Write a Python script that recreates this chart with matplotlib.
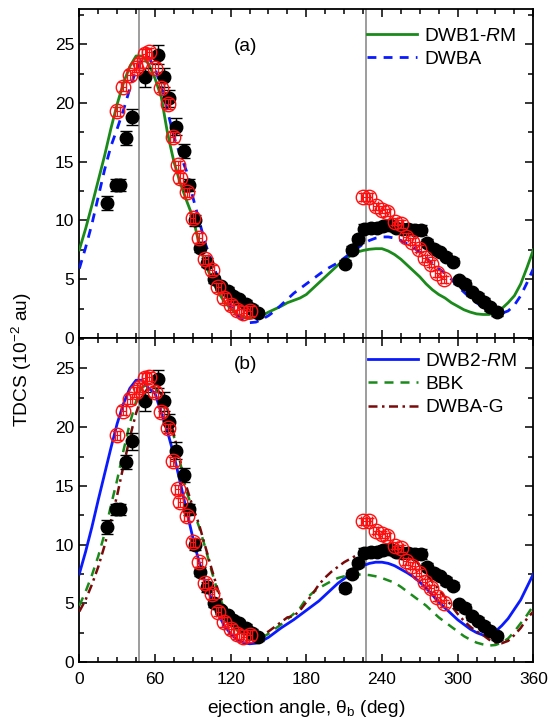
import matplotlib
matplotlib.use("Agg")
import matplotlib.pyplot as plt
import numpy as np

plt.rcParams['font.family'] = ['Liberation Sans', 'DejaVu Sans']
plt.rcParams['mathtext.fontset'] = 'custom'
plt.rcParams['mathtext.rm'] = 'Liberation Sans'
plt.rcParams['mathtext.it'] = 'Liberation Sans:italic'
plt.rcParams['mathtext.bf'] = 'Liberation Sans:bold'

# ---------------- data ----------------
# experiment 1 (black filled circles)
exp1_angle = [22, 29, 32, 37, 42, 52, 62, 67, 71, 77, 83, 87, 92, 96, 101, 107, 112, 118, 122, 127, 132, 137, 142,
              211, 216, 221, 226, 231, 236, 241, 246, 251, 256, 261, 266, 271, 276, 281, 286, 291, 296, 301, 306,
              311, 316, 321, 326, 331]
exp1_tdcs = [11.5, 13.0, 13.0, 17.0, 18.8, 22.2, 24.1, 22.2, 20.4, 18.0, 15.9, 13.0, 10.0, 7.7, 6.4, 5.0, 4.4, 4.0,
             3.6, 3.3, 2.9, 2.5, 2.1,
             6.3, 7.5, 8.4, 9.3, 9.4, 9.4, 9.5, 9.6, 9.4, 9.3, 9.3, 9.2, 9.2, 8.1, 7.6, 7.3, 6.9, 6.5, 4.9, 4.6,
             3.9, 3.5, 3.1, 2.6, 2.2]
exp1_err = [0.6, 0.5, 0.5, 0.6, 0.7, 0.8, 0.8, 0.8, 0.7, 0.7, 0.6, 0.5, 0.5, 0.4, 0.4, 0.3, 0.3, 0.3,
            0.3, 0.3, 0.3, 0.3, 0.3,
            0.3, 0.3, 0.3, 0.4, 0.4, 0.4, 0.4, 0.4, 0.4, 0.4, 0.4, 0.4, 0.4, 0.3, 0.3, 0.3, 0.3, 0.3, 0.3, 0.3,
            0.3, 0.3, 0.3, 0.3, 0.3]

# experiment 2 (red open circles)
exp2_angle = [30, 35, 40, 45, 48, 52, 55, 60, 65, 70, 74, 78, 80, 85, 90, 95, 100, 105, 110, 115, 120, 125, 130, 135,
              225, 230, 235, 240, 244, 250, 255, 259, 264, 269, 274, 279, 284, 289]
exp2_tdcs = [19.3, 21.4, 22.4, 23.0, 23.4, 24.2, 24.3, 23.0, 21.3, 19.9, 17.1, 14.7, 13.6, 12.4, 10.2, 8.5, 6.7,
             5.8, 4.3, 3.4, 2.8, 2.4, 2.1, 2.3,
             12.0, 12.0, 11.2, 10.9, 10.7, 9.9, 9.7, 8.6, 8.2, 7.6, 6.8, 6.3, 5.5, 5.0]
exp2_err = [0.4] * 24 + [0.3] * 14

theory_angle = list(range(0, 361, 5))

dwb1_rm = [7.5, 9.3, 11.3, 13.4, 15.5, 17.8, 19.9, 21.7, 23.1, 24.0, 24.0, 23.3, 22.1, 20.5, 17.4, 15.0, 13.2,
           11.7, 10.3, 8.0, 6.3, 5.0, 3.9, 3.1, 2.5, 2.0, 1.75, 1.65, 1.75, 1.9, 2.2, 2.45, 2.7, 3.0, 3.2, 3.4,
           3.7, 4.2, 4.7, 5.2, 5.7, 6.2, 6.6, 7.0, 7.3, 7.45, 7.55, 7.6, 7.6, 7.4, 7.1, 6.7, 6.2, 5.7, 5.2, 4.6,
           4.1, 3.7, 3.4, 3.0, 2.7, 2.4, 2.2, 2.05, 2.0, 2.0, 2.2, 2.5, 3.0, 3.6, 4.6, 6.0, 7.5]

dwba = [5.9, 7.7, 9.7, 12.0, 14.3, 16.3, 17.8, 19.4, 21.2, 22.8, 23.8, 23.9, 22.9, 21.4, 19.3, 17.1, 15.6,
        14.2, 12.0, 10.0, 8.0, 6.5, 5.1, 3.9, 2.7, 1.9, 1.5, 1.3, 1.35, 1.6, 1.9, 2.3, 2.8, 3.3, 3.8, 4.2,
        4.6, 5.0, 5.4, 5.8, 6.1, 6.4, 6.8, 7.2, 7.6, 8.0, 8.3, 8.5, 8.6, 8.6, 8.5, 8.3, 8.0, 7.7, 7.3, 6.8,
        6.3, 5.9, 5.5, 5.0, 4.4, 3.9, 3.4, 3.0, 2.6, 2.3, 2.15, 2.1, 2.3, 2.8, 3.6, 4.7, 5.9]

dwb2_rm = [7.5, 9.4, 11.5, 13.8, 16.0, 18.2, 20.3, 22.0, 23.3, 24.0, 24.0, 23.3, 22.9, 21.2, 19.6, 17.6, 15.3,
           12.9, 10.6, 8.5, 6.7, 5.3, 4.1, 3.1, 2.4, 1.9, 1.65, 1.55, 1.6, 1.8, 2.1, 2.5, 2.9, 3.25, 3.6, 4.0,
           4.4, 4.8, 5.2, 5.7, 6.2, 6.7, 7.1, 7.5, 7.9, 8.2, 8.4, 8.5, 8.5, 8.4, 8.2, 7.9, 7.6, 7.25, 6.8, 6.3,
           5.7, 5.1, 4.6, 4.1, 3.6, 3.2, 2.8, 2.5, 2.3, 2.3, 2.6, 3.1, 3.7, 4.5, 5.3, 6.4, 7.5]

bbk = [4.8, 6.0, 7.4, 9.0, 10.9, 13.3, 15.5, 18.0, 20.3, 22.2, 23.4, 23.7, 23.4, 22.5, 21.0, 19.2, 17.0,
       14.5, 13.0, 11.5, 9.7, 7.7, 5.9, 4.5, 3.4, 2.7, 2.2, 1.95, 1.95, 2.1, 2.4, 2.8, 3.2, 3.65, 4.1, 4.6,
       5.4, 5.9, 6.3, 6.6, 6.9, 7.15, 7.3, 7.4, 7.45, 7.45, 7.4, 7.3, 7.15, 6.95, 6.75, 6.4, 6.0, 5.6, 5.2,
       4.8, 4.3, 3.8, 3.4, 3.0, 2.6, 2.2, 1.9, 1.65, 1.5, 1.4, 1.45, 1.65, 2.0, 2.6, 3.3, 4.0, 4.8]

dwba_g = [4.3, 5.3, 6.6, 8.1, 9.9, 12.0, 14.2, 16.7, 19.1, 21.2, 22.7, 23.4, 23.4, 22.8, 21.5, 19.4, 17.1,
          14.9, 13.2, 11.7, 9.8, 7.9, 6.1, 4.7, 3.6, 2.9, 2.4, 2.1, 2.1, 2.3, 2.6, 3.0, 3.4, 3.8, 3.9, 4.4,
          5.1, 5.8, 6.6, 7.2, 7.7, 8.1, 8.5, 8.8, 9.1, 9.4, 9.6, 9.8, 9.9, 9.9, 9.8, 9.6, 9.3, 8.9, 8.2, 7.5,
          6.8, 6.2, 5.5, 4.8, 4.1, 3.5, 3.0, 2.6, 2.3, 1.9, 1.65, 1.6, 1.8, 2.3, 2.9, 3.7, 4.3]

q_direction = [47, 227]

# ---------------- styling ----------------
GREEN = '#1a8a1a'
BLUE = '#0a1aff'
WINE = '#7a0a0a'
RED = '#ff1010'
FS_TICK = 12.5
FS_TEXT = 13.8

fig = plt.figure(figsize=(5.5, 7.22), dpi=100)
ax_a = fig.add_axes([0.1442, 0.5319, 0.8255, 0.4556])
ax_b = fig.add_axes([0.1442, 0.0831, 0.8255, 0.4488])


def draw_exp(ax):
    ax.errorbar(exp1_angle, exp1_tdcs, yerr=exp1_err, fmt='o', color='black', ms=9.0,
                mec='black', mfc='black', elinewidth=1.0, capsize=4.5, capthick=1.0, zorder=4)
    ax.errorbar(exp2_angle, exp2_tdcs, yerr=exp2_err, xerr=[2] * len(exp2_angle), fmt='o', color=RED,
                ms=10.4, mfc='none', mec=RED, mew=1.0, elinewidth=0.8, capsize=3.5, capthick=0.8, zorder=5)


def style(ax, ymax, show_xlabels):
    ax.set_xlim(0, 360)
    ax.set_ylim(0, ymax)
    ax.set_xticks(range(0, 361, 60))
    ax.set_xticks(range(0, 361, 15), minor=True)
    ax.set_yticks(range(0, 26, 5))
    ax.set_yticks(np.arange(0, ymax, 2.5), minor=True)
    ax.tick_params(which='both', direction='in', top=True, right=True, labelsize=FS_TICK, width=1.1)
    ax.tick_params(which='major', length=6)
    ax.tick_params(which='minor', length=3.5)
    ax.tick_params(axis='x', pad=7)
    if not show_xlabels:
        ax.tick_params(axis='x', labelbottom=False)
    for s in ax.spines.values():
        s.set_linewidth(1.3)
    for q in q_direction:
        ax.axvline(q, color='#8c8c8c', lw=1.2, zorder=1)


leg_kw = dict(loc='upper left', frameon=False, fontsize=FS_TEXT, handlelength=2.6,
              handletextpad=0.37, labelspacing=0.3, borderpad=0.0, borderaxespad=0.0)

# panel (a)
style(ax_a, 28, False)
ax_a.plot(theory_angle, dwb1_rm, color=GREEN, lw=2.0, label=r'DWB1-$\mathit{R}$M', zorder=3)
ax_a.plot(theory_angle, dwba, color=BLUE, lw=2.0, dashes=(3.2, 2.6), label='DWBA', zorder=3)
draw_exp(ax_a)
ax_a.text(132, 24.8, '(a)', fontsize=FS_TEXT, ha='center', va='center')
ax_a.legend(bbox_to_anchor=(0.634, 0.945), **leg_kw)

# panel (b)
style(ax_b, 27.6, True)
ax_b.plot(theory_angle, dwb2_rm, color=BLUE, lw=2.0, label=r'DWB2-$\mathit{R}$M', zorder=3)
ax_b.plot(theory_angle, bbk, color=GREEN, lw=1.8, dashes=(3.6, 2.8), label='BBK', zorder=3)
ax_b.plot(theory_angle, dwba_g, color=WINE, lw=1.8, dashes=(3.6, 1.8, 1.0, 1.8), label='DWBA-G', zorder=3)
draw_exp(ax_b)
ax_b.text(132, 25.3, '(b)', fontsize=FS_TEXT, ha='center', va='center')
ax_b.legend(bbox_to_anchor=(0.636, 0.955), **leg_kw)

ax_b.set_xlabel('ejection angle, θ$_\\mathrm{b}$ (deg)', fontsize=FS_TEXT, labelpad=8)
fig.text(22 / 550, 1 - 360 / 722, 'TDCS (10$^{-2}$ au)', rotation=90, fontsize=FS_TEXT,
         ha='center', va='center')

fig.savefig('out.png', dpi=100)
